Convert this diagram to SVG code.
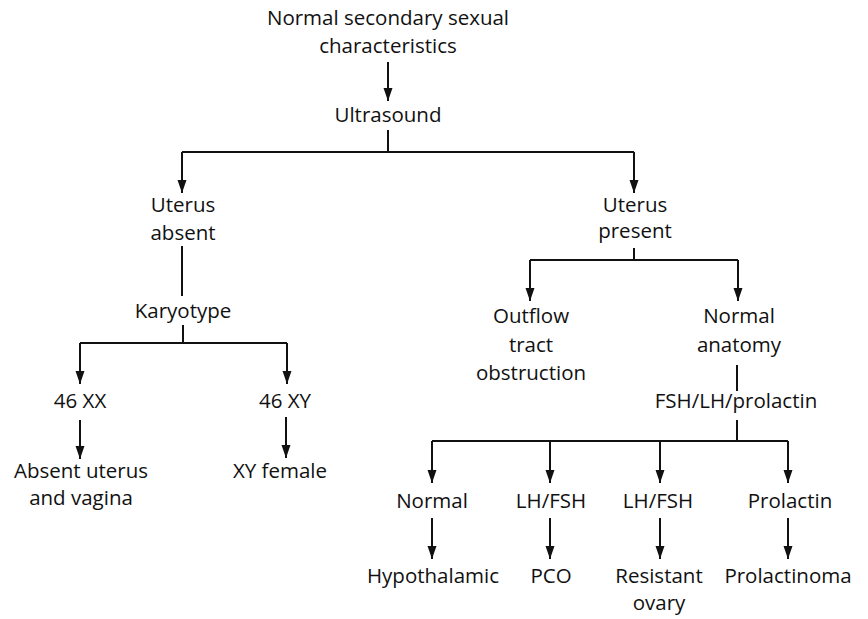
<svg xmlns="http://www.w3.org/2000/svg" width="868" height="619" viewBox="0 0 868 619">
<defs>
<marker id="ah" markerUnits="userSpaceOnUse" markerWidth="14" markerHeight="10" refX="13" refY="4.5" orient="auto">
<path d="M0,0 L13,4.5 L0,9 z" fill="#111"/>
</marker>
<style>
text{font-family:"Open Sans","Noto Sans","Liberation Sans",sans-serif;font-size:20.5px;fill:#111;text-anchor:middle}
.c{fill:none;stroke:#111;stroke-width:2}
.a{marker-end:url(#ah)}
</style>
</defs>
<rect width="868" height="619" fill="#fff"/>
<g id="connectors">
<path class="c a" d="M388,62 V101"/>
<path class="c" d="M388,130 V152 M182,152 H634"/>
<path class="c a" d="M182,152 V193"/>
<path class="c a" d="M634,152 V193"/>
<path class="c" d="M182,246 V296"/>
<path class="c" d="M183,325 V343 M80,343 H287"/>
<path class="c a" d="M80,343 V384"/>
<path class="c a" d="M287,343 V384"/>
<path class="c a" d="M80,420 V459"/>
<path class="c a" d="M286,417 V458"/>
<path class="c" d="M634,248 V260 M530,260 H738"/>
<path class="c a" d="M530,260 V301"/>
<path class="c a" d="M738,260 V301"/>
<path class="c" d="M737,365 V391"/>
<path class="c" d="M737,420 V441 M432,441 H788"/>
<path class="c a" d="M432,441 V483"/>
<path class="c a" d="M550,441 V483"/>
<path class="c a" d="M660,441 V483"/>
<path class="c a" d="M788,441 V483"/>
<path class="c a" d="M432,518 V559"/>
<path class="c a" d="M550,518 V559"/>
<path class="c a" d="M660,518 V559"/>
<path class="c a" d="M788,518 V559"/>
</g>
<g id="n-start"><text x="388" y="25">Normal secondary sexual</text><text x="388" y="53">characteristics</text></g>
<g id="n-ultrasound"><text x="388" y="122">Ultrasound</text></g>
<g id="n-uterus-absent"><text x="183" y="212">Uterus</text><text x="183" y="240">absent</text></g>
<g id="n-karyotype"><text x="183" y="318">Karyotype</text></g>
<g id="n-46xx"><text x="80" y="408">46 XX</text></g>
<g id="n-46xy"><text x="285" y="408">46 XY</text></g>
<g id="n-absent"><text x="81" y="478">Absent uterus</text><text x="81" y="505">and vagina</text></g>
<g id="n-xyfemale"><text x="280" y="478">XY female</text></g>
<g id="n-uterus-present"><text x="635" y="212">Uterus</text><text x="635" y="238">present</text></g>
<g id="n-outflow"><text x="531" y="323">Outflow</text><text x="531" y="352">tract</text><text x="531" y="380">obstruction</text></g>
<g id="n-normal-anatomy"><text x="739" y="323">Normal</text><text x="739" y="352">anatomy</text></g>
<g id="n-fsh"><text x="736" y="408">FSH/LH/prolactin</text></g>
<g id="n-normal"><text x="432" y="508">Normal</text></g>
<g id="n-lhfsh1"><text x="551" y="508">LH/FSH</text></g>
<g id="n-lhfsh2"><text x="658" y="508">LH/FSH</text></g>
<g id="n-prolactin"><text x="790" y="508">Prolactin</text></g>
<g id="n-hypothalamic"><text x="433" y="583">Hypothalamic</text></g>
<g id="n-pco"><text x="551" y="583">PCO</text></g>
<g id="n-resistant"><text x="659" y="583">Resistant</text><text x="659" y="610">ovary</text></g>
<g id="n-prolactinoma"><text x="788" y="583">Prolactinoma</text></g>
</svg>
